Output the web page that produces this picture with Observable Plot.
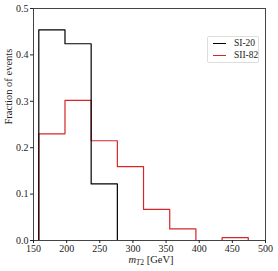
<!DOCTYPE html>
<html><head><meta charset="utf-8">
<script src="https://cdn.jsdelivr.net/npm/d3@7"></script>
<script src="https://cdn.jsdelivr.net/npm/@observablehq/plot@0.6"></script>
<style>
body{margin:0;background:#fff;}
#wrap{position:relative;width:278px;height:271px;font-family:"Liberation Serif",serif;}
#legend{position:absolute;left:207px;top:36px;width:52px;height:27px;border:1px solid #ddd;border-radius:2px;background:#fff;font-size:9.5px;box-sizing:border-box;color:#222;}
.item{position:absolute;left:5px;display:flex;align-items:center;white-space:nowrap;line-height:11px;}
.sw{width:13px;height:0;border-top:1.4px solid;margin-right:8px;}
</style>
</head><body>
<div id="wrap"><div id="legend"></div></div>
<script>
const series = ["SI-20", "SII-82"];
const colors = ["#000000", "#d62728"];
const edges = [158, 197.5, 237, 276.5, 316, 355.5, 395, 434.5, 474];
const si20 = [0.454, 0.424, 0.122];
const sii82 = [0.230, 0.302, 0.215, 0.159, 0.067, 0.025, 0.0, 0.006];
const xTicks = [150, 200, 250, 300, 350, 400, 450, 500];
const yTicks = [0.0, 0.1, 0.2, 0.3, 0.4, 0.5];

function stepPts(vals, name) {
  const pts = [{x: edges[0], y: 0, s: name}];
  vals.forEach((v, i) => {
    pts.push({x: edges[i], y: v, s: name});
    pts.push({x: edges[i + 1], y: v, s: name});
  });
  pts.push({x: edges[vals.length], y: 0, s: name});
  return pts;
}
const data = [...stepPts(sii82, series[1]), ...stepPts(si20, series[0])];

const chart = Plot.plot({
  width: 278, height: 271,
  marginLeft: 33, marginRight: 13, marginTop: 8, marginBottom: 31,
  style: {fontFamily: "'Liberation Serif', serif", fontSize: "10px", color: "#222", background: "#fff"},
  x: {domain: [150, 500], label: null},
  y: {domain: [0, 0.5], label: null},
  color: {domain: series, range: colors},
  marks: [
    Plot.line(data, {x: "x", y: "y", z: "s", stroke: "s", strokeWidth: 1.2}),
    Plot.frame({stroke: "#444", strokeWidth: 1}),
    Plot.axisX({ticks: xTicks, tickSize: 3, tickPadding: 1, label: null}),
    Plot.axisY({ticks: yTicks, tickSize: 3, tickPadding: 2, tickFormat: d3.format(".1f"), label: null}),
    Plot.text(["Fraction of events"], {frameAnchor: "left", dx: -25, rotate: -90, fontSize: 10.5, text: d => d})
  ]
});
document.getElementById("wrap").prepend(chart);

// x label with subscript
const svg = d3.select(chart);
const g = svg.append("text").attr("x", 151).attr("y", 263).attr("text-anchor", "middle")
  .attr("font-size", 10.5).attr("fill", "#222").attr("font-family", "'Liberation Serif', serif");
g.append("tspan").attr("font-style", "italic").text("m");
g.append("tspan").attr("font-style", "italic").attr("font-size", 7.5).attr("dy", 2).text("T");
g.append("tspan").attr("font-size", 7.5).text("2");
g.append("tspan").attr("dy", -2).text(" [GeV]");

const leg = document.getElementById("legend");
series.forEach((s, i) => {
  const it = document.createElement("div");
  it.className = "item";
  it.style.top = (1 + i * 12) + "px";
  it.innerHTML = `<span class="sw" style="border-color:${colors[i]}"></span><span>${s}</span>`;
  leg.appendChild(it);
});
</script>
</body></html>
